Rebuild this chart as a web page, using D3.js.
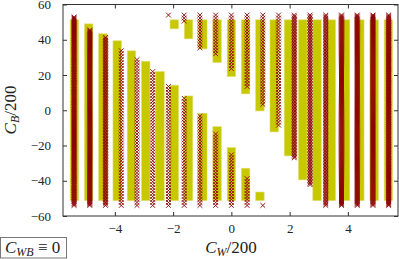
<!DOCTYPE html>
<html>
<head>
<meta charset="utf-8">
<script src="https://cdn.jsdelivr.net/npm/d3@7"></script>
<style>
  body { margin: 0; background: #fff; }
  svg { display: block; }
  text { font-family: "Liberation Serif", "DejaVu Serif", serif; fill: #222; }
</style>
</head>
<body>
<script>
// yellow boxes: C_W of each column, top of the part from the bottom, bottom of the part from the top
var barCW = [-5.39, -4.9, -4.41, -3.92, -3.43, -2.94, -2.45, -1.96, -1.47, -0.98, -0.49, 0,
             0.49, 0.98, 1.47, 1.96, 2.45, 2.94, 3.43, 3.92, 4.41, 4.9, 5.39];
var barLowTop = [51.3, 49, 43.4, 39.4, 33.7, 27.8, 22, 14.2, 8.1, -1.7, -9.3, -21.2,
                 -32.9, -46.4, null, null, null, null, null, null, null, null, null];
var barHighBottom = [null, null, null, null, null, null, null, 46.2, 40.5, 34.8, 27.1, 19.1,
                     9.3, -0.4, -12.3, -25.9, -39.5, -51.3, -51.3, -51.3, -51.3, -51.3, -51.3];
var barLimits = [-51.3, 51.3];

// red crosses: columns, same layout, plus how many points overlap per column
var markCW = [-5.4, -4.86, -4.32, -3.78, -3.24, -2.7, -2.16, -1.62, -1.08, -0.54, 0,
              0.54, 1.08, 1.62, 2.16, 2.7, 3.24, 3.78, 4.32, 4.86, 5.4];
var markLowTop = [53, 46, 42, 35, 29, 23, 14.4, 7.4, -3.2, -12, -24.4,
                  -37.7, -54, null, null, null, null, null, null, null, null];
var markHighBottom = [null, null, null, null, null, null, 54, 50.6, 34.3, 31.4, 22.9,
                      12, 2.1, -10, -27, -42.4, -54, -54, -54, -54, -54];
var markWeight = [3, 3, 2, 1, 1, 1, 1, 1, 1, 1, 1, 1, 1, 1, 2, 2, 2, 3, 3, 3, 3];
var markLimits = [-54, 54];
var markRows = 64;

var xTicks = [-4, -2, 0, 2, 4];
var yTicks = [-60, -40, -20, 0, 20, 40, 60];

var W = 399, H = 259;
var pL = 63, pR = 398, pT = 4.5, pB = 216;

var svg = d3.select("body").append("svg")
    .attr("width", W)
    .attr("height", H);

var x = d3.scaleLinear().domain([-5.78, 5.72]).range([pL, pR]);
var y = d3.scaleLinear().domain([-60, 60]).range([pB, pT]);

//yellow boxes
var segs = [];
barCW.forEach(function (c, i) {
    if (barLowTop[i] != null) segs.push({ c: c, lo: barLimits[0], hi: barLowTop[i] });
    if (barHighBottom[i] != null) segs.push({ c: c, lo: barHighBottom[i], hi: barLimits[1] });
});
var bw = x(0.29) - x(0);
svg.append("g").selectAll("rect")
    .data(segs)
    .enter()
    .append("rect")
    .attr("x", function (d) { return x(d.c) - bw / 2 })
    .attr("y", function (d) { return y(d.hi) })
    .attr("width", bw)
    .attr("height", function (d) { return y(d.lo) - y(d.hi) })
    .attr("fill", "#c8c800")
    .attr("stroke", "#dede70")
    .attr("stroke-width", 0.6);

//red crosses
var pts = [];
var step = (markLimits[1] - markLimits[0]) / markRows;
markCW.forEach(function (c, j) {
    var w = markWeight[j];
    for (var i = 0; i <= markRows; i++) {
        for (var m = 0; m < w; m++) {
            var v = markLimits[0] + (i + m / w) * step;
            if (v > markLimits[1] + 0.01) continue;
            var inLow = markLowTop[j] != null && v <= markLowTop[j] + 0.01;
            var inHigh = markHighBottom[j] != null && v >= markHighBottom[j] - 0.01;
            if (inLow || inHigh) pts.push({ c: c, v: v });
        }
    }
});
var s = 2.4;
svg.append("g").selectAll("path")
    .data(pts)
    .enter()
    .append("path")
    .attr("d", function (d) {
        var px = x(d.c), py = y(d.v);
        return "M" + (px - s) + "," + (py - s) + "L" + (px + s) + "," + (py + s) +
            "M" + (px - s) + "," + (py + s) + "L" + (px + s) + "," + (py - s);
    })
    .attr("stroke", "#8b0000")
    .attr("stroke-width", 0.9)
    .attr("fill", "none");

//axes, ticks inward on all sides
function styleAxis(g) {
    g.select(".domain").remove();
    g.selectAll(".tick line").attr("stroke", "#333");
    g.selectAll(".tick text").attr("font-size", 13)
        .attr("font-family", "Liberation Serif, serif").attr("fill", "#222");
}
svg.append("g").attr("transform", "translate(0," + pB + ")")
    .call(d3.axisBottom(x).tickValues(xTicks).tickSizeInner(-4).tickPadding(8))
    .call(styleAxis);
svg.append("g").attr("transform", "translate(0," + pT + ")")
    .call(d3.axisTop(x).tickValues(xTicks).tickSizeInner(-4).tickFormat(""))
    .call(styleAxis);
svg.append("g").attr("transform", "translate(" + pL + ",0)")
    .call(d3.axisLeft(y).tickValues(yTicks).tickSizeInner(-4).tickPadding(12))
    .call(styleAxis);
svg.append("g").attr("transform", "translate(" + pR + ",0)")
    .call(d3.axisRight(y).tickValues(yTicks).tickSizeInner(-4).tickFormat(""))
    .call(styleAxis);

svg.append("rect")
    .attr("x", pL).attr("y", pT)
    .attr("width", pR - pL).attr("height", pB - pT)
    .attr("fill", "none").attr("stroke", "#333").attr("stroke-width", 1);

//axis labels
var xl = svg.append("text")
    .attr("x", 231).attr("y", 252.5)
    .attr("text-anchor", "middle")
    .attr("font-size", 17);
xl.append("tspan").attr("font-style", "italic").text("C");
xl.append("tspan").attr("font-style", "italic").attr("font-size", 12).attr("dy", 3).text("W");
xl.append("tspan").attr("dy", -3).text("/200");

var yl = svg.append("text")
    .attr("transform", "translate(16,110) rotate(-90)")
    .attr("text-anchor", "middle")
    .attr("font-size", 17);
yl.append("tspan").attr("font-style", "italic").text("C");
yl.append("tspan").attr("font-style", "italic").attr("font-size", 12).attr("dy", 3).text("B");
yl.append("tspan").attr("dy", -3).text("/200");

//note box
svg.append("rect")
    .attr("x", 0.5).attr("y", 237.5)
    .attr("width", 66).attr("height", 20.5)
    .attr("fill", "#fff").attr("stroke", "#777").attr("stroke-width", 1);
var nt = svg.append("text")
    .attr("x", 5).attr("y", 253)
    .attr("font-size", 17);
nt.append("tspan").attr("font-style", "italic").text("C");
nt.append("tspan").attr("font-style", "italic").attr("font-size", 12).attr("dy", 3).text("WB");
nt.append("tspan").attr("dy", -3).text(" \u2261 0");
</script>
</body>
</html>
